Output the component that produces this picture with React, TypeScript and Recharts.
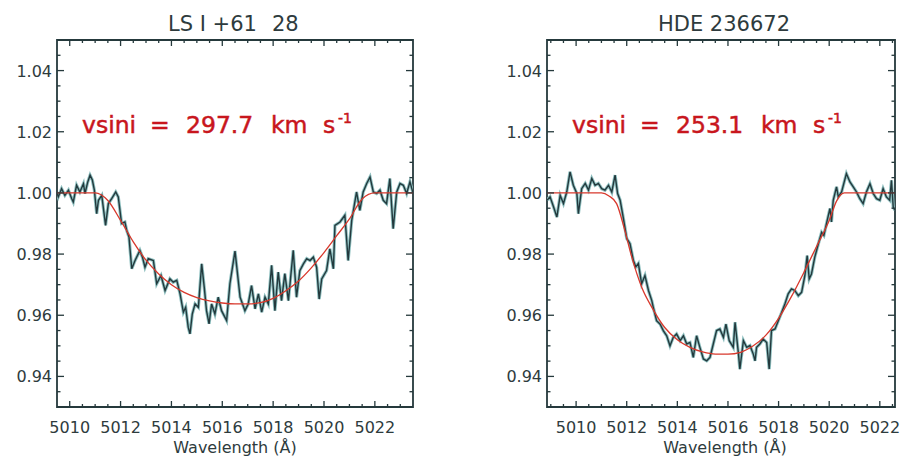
import React from 'react'
import { LineChart, Line, XAxis, YAxis, ReferenceArea } from 'recharts'

// LS I +61 28 — observed spectrum [wavelength Å, normalised flux]
const lsObserved: [number, number][] = [
  [5009.5, 1.0], [5009.55, 0.9987], [5009.68, 1.0014], [5009.81, 0.9992], [5009.95, 1.0009],
  [5010.08, 0.9981], [5010.14, 0.997], [5010.27, 1.0025], [5010.4, 1.0003], [5010.54, 1.003],
  [5010.6, 0.9998], [5010.71, 1.0036], [5010.8, 1.0058], [5010.89, 1.0042], [5010.97, 1.0009],
  [5011.06, 0.9932], [5011.13, 0.9976], [5011.26, 0.9992], [5011.41, 0.9894], [5011.52, 0.9965],
  [5011.65, 0.9981], [5011.81, 1.0003], [5011.91, 0.9987], [5012.04, 0.99], [5012.17, 0.9905],
  [5012.24, 0.9878], [5012.33, 0.9856], [5012.44, 0.9752], [5012.57, 0.9779], [5012.76, 0.9812],
  [5012.86, 0.979], [5012.96, 0.9757], [5013.09, 0.9785], [5013.29, 0.9779], [5013.42, 0.9703],
  [5013.59, 0.973], [5013.75, 0.9681], [5013.94, 0.9719], [5014.07, 0.9708], [5014.21, 0.9714],
  [5014.34, 0.967], [5014.47, 0.961], [5014.56, 0.9626], [5014.66, 0.9561], [5014.73, 0.9539],
  [5014.82, 0.9604], [5014.93, 0.9637], [5015.06, 0.9626], [5015.19, 0.9768], [5015.29, 0.9692],
  [5015.38, 0.9615], [5015.48, 0.9572], [5015.58, 0.9637], [5015.71, 0.9604], [5015.84, 0.9659],
  [5015.97, 0.9615], [5016.17, 0.9583], [5016.3, 0.9703], [5016.5, 0.981], [5016.7, 0.9659],
  [5016.89, 0.9615], [5017.02, 0.9637], [5017.15, 0.9697], [5017.29, 0.9621], [5017.42, 0.967],
  [5017.55, 0.961], [5017.68, 0.9659], [5017.81, 0.9637], [5017.94, 0.9763], [5018.07, 0.9615],
  [5018.2, 0.9741], [5018.33, 0.9648], [5018.46, 0.9736], [5018.6, 0.9648], [5018.79, 0.9812],
  [5018.92, 0.9659], [5019.05, 0.9746], [5019.19, 0.9768], [5019.32, 0.9785], [5019.45, 0.9779],
  [5019.58, 0.979], [5019.71, 0.9757], [5019.81, 0.9653], [5019.91, 0.9719], [5020.1, 0.9746],
  [5020.23, 0.9817], [5020.37, 0.9752], [5020.43, 0.9894], [5020.63, 0.9905], [5020.82, 0.9927],
  [5020.95, 0.9779], [5021.09, 0.991], [5021.28, 1.0003], [5021.41, 0.9943], [5021.54, 1.0003],
  [5021.68, 1.0031], [5021.81, 1.0052], [5021.94, 1.0003], [5022.07, 0.9998], [5022.2, 1.0009],
  [5022.33, 0.9976], [5022.46, 0.9965], [5022.59, 1.0047], [5022.72, 0.9883], [5022.86, 1.0003],
  [5022.99, 1.0031], [5023.12, 1.0025], [5023.25, 0.9998], [5023.38, 1.0036], [5023.5, 1.0],
]

// LS I +61 28 — rotational profile fit
const lsFit: [number, number][] = [
  [5009.5, 1.0], [5010.0, 1.0], [5010.5, 1.0], [5011.0, 1.0], [5011.5, 0.9975],
  [5012.0, 0.991], [5012.5, 0.984], [5013.0, 0.978], [5013.5, 0.9735], [5014.0, 0.97],
  [5014.5, 0.9675], [5015.0, 0.9658], [5015.5, 0.9647], [5016.0, 0.964], [5016.5, 0.9637],
  [5017.0, 0.9637], [5017.5, 0.9641], [5018.0, 0.9655], [5018.5, 0.968], [5019.0, 0.9712],
  [5019.5, 0.9755], [5020.0, 0.9805], [5020.5, 0.986], [5021.0, 0.9915], [5021.5, 0.998],
  [5022.0, 1.0], [5022.5, 1.0], [5023.0, 1.0], [5023.5, 1.0],
]

// HDE 236672 — observed spectrum
const hdeObserved: [number, number][] = [
  [5008.85, 0.9976], [5008.97, 0.9987], [5009.11, 0.9954], [5009.24, 0.9921], [5009.37, 0.9992],
  [5009.5, 0.9965], [5009.63, 1.0003], [5009.76, 1.0069], [5009.89, 1.0025], [5010.03, 0.9998],
  [5010.09, 0.9932], [5010.22, 1.0014], [5010.36, 1.0031], [5010.49, 1.0009], [5010.62, 1.0047],
  [5010.75, 1.0025], [5010.88, 1.0031], [5011.01, 1.0014], [5011.14, 1.0009], [5011.28, 1.0025],
  [5011.41, 1.0003], [5011.54, 1.0058], [5011.64, 0.9998], [5011.74, 0.9976], [5011.87, 0.9916],
  [5012.0, 0.9851], [5012.13, 0.9834], [5012.26, 0.978], [5012.36, 0.9758], [5012.46, 0.9769],
  [5012.59, 0.9703], [5012.72, 0.973], [5012.86, 0.9681], [5012.99, 0.9648], [5013.05, 0.9626],
  [5013.18, 0.9582], [5013.32, 0.9571], [5013.45, 0.9549], [5013.58, 0.9533], [5013.71, 0.95],
  [5013.84, 0.9528], [5013.97, 0.9539], [5014.11, 0.9517], [5014.24, 0.9533], [5014.37, 0.9506],
  [5014.5, 0.9511], [5014.63, 0.9462], [5014.76, 0.9533], [5014.89, 0.9495], [5015.03, 0.9457],
  [5015.16, 0.9451], [5015.29, 0.9462], [5015.42, 0.9506], [5015.55, 0.955], [5015.68, 0.9555],
  [5015.82, 0.9528], [5015.92, 0.9571], [5016.05, 0.9517], [5016.21, 0.9495], [5016.28, 0.9577],
  [5016.41, 0.9478], [5016.47, 0.9424], [5016.61, 0.9517], [5016.74, 0.9495], [5016.87, 0.9501],
  [5017.0, 0.9473], [5017.07, 0.9451], [5017.13, 0.9495], [5017.26, 0.9506], [5017.39, 0.9522],
  [5017.53, 0.9511], [5017.63, 0.9424], [5017.72, 0.955], [5017.86, 0.9555], [5017.99, 0.9582],
  [5018.12, 0.9609], [5018.25, 0.9637], [5018.38, 0.967], [5018.51, 0.9686], [5018.64, 0.9681],
  [5018.78, 0.9664], [5018.91, 0.9675], [5019.04, 0.973], [5019.13, 0.9795], [5019.21, 0.9719],
  [5019.3, 0.9735], [5019.43, 0.979], [5019.57, 0.9833], [5019.7, 0.9871], [5019.79, 0.9861],
  [5019.89, 0.9899], [5020.03, 0.9949], [5020.09, 0.9905], [5020.16, 0.9976], [5020.29, 1.002],
  [5020.36, 0.9987], [5020.49, 1.0003], [5020.68, 1.0063], [5020.82, 1.0036], [5020.95, 1.002],
  [5021.08, 1.0003], [5021.21, 0.9981], [5021.34, 0.9965], [5021.47, 1.0003], [5021.61, 1.003],
  [5021.74, 0.9998], [5021.87, 0.9981], [5022.0, 0.9976], [5022.13, 1.0014], [5022.26, 0.9987],
  [5022.39, 0.9976], [5022.46, 1.0041], [5022.53, 0.9954], [5022.6, 0.9943],
]

// HDE 236672 — rotational profile fit
const hdeFit: [number, number][] = [
  [5008.85, 1.0], [5009.5, 1.0], [5010.0, 1.0], [5010.5, 1.0], [5011.0, 1.0],
  [5011.3, 0.999], [5011.6, 0.9965], [5011.9, 0.9885], [5012.2, 0.979], [5012.6, 0.969],
  [5013.0, 0.9625], [5013.5, 0.956], [5014.0, 0.952], [5014.5, 0.9495], [5015.0, 0.948],
  [5015.5, 0.9473], [5016.0, 0.9473], [5016.5, 0.9479], [5017.0, 0.95], [5017.5, 0.9535],
  [5018.0, 0.959], [5018.5, 0.966], [5019.0, 0.974], [5019.5, 0.9825], [5020.0, 0.991],
  [5020.3, 0.9975], [5020.6, 1.0], [5021.0, 1.0], [5022.0, 1.0], [5022.6, 1.0],
]

const lsXTicks = [
  5010, 5010.5, 5011, 5011.5, 5012, 5012.5, 5013, 5013.5, 5014, 5014.5, 5015, 5015.5, 5016, 5016.5,
  5017, 5017.5, 5018, 5018.5, 5019, 5019.5, 5020, 5020.5, 5021, 5021.5, 5022, 5022.5, 5023,
]
const hdeXTicks = [
  5009, 5009.5, 5010, 5010.5, 5011, 5011.5, 5012, 5012.5, 5013, 5013.5, 5014, 5014.5, 5015, 5015.5,
  5016, 5016.5, 5017, 5017.5, 5018, 5018.5, 5019, 5019.5, 5020, 5020.5, 5021, 5021.5, 5022, 5022.5,
]
const majorX = [5010, 5012, 5014, 5016, 5018, 5020, 5022]
const yTicks = [
  0.935, 0.94, 0.945, 0.95, 0.955, 0.96, 0.965, 0.97, 0.975, 0.98, 0.985, 0.99, 0.995, 1.0,
  1.005, 1.01, 1.015, 1.02, 1.025, 1.03, 1.035, 1.04, 1.045,
]
const majorY = [0.94, 0.96, 0.98, 1.0, 1.02, 1.04]
const yDomain: [number, number] = [0.93, 1.05]

const FONT = '"DejaVu Sans", Verdana, sans-serif'
const INK = '#25393c'
const LABEL = '#2e3b3d'
const RED_TEXT = '#c8161d'
const FIT_RED = '#d8382c'
const HEIGHT = 458
const PLOT_TOP = 40
const PLOT_BOTTOM = 407
const AXIS_W = 57

const toRows = (pts: [number, number][]) => pts.map(([w, f]) => ({ w, f }))

function Panel({ left, width, marginRight, domain, ticks, observed, fit }: any) {
  const plotLeft = AXIS_W
  const plotRight = width - marginRight
  const obs = toRows(observed)
  const model = toRows(fit)

  const XTick = ({ x, payload }: any) => {
    const major = majorX.includes(payload.value)
    const len = major ? 6 : 3
    return (
      <g>
        <line x1={x} x2={x} y1={PLOT_BOTTOM} y2={PLOT_BOTTOM - len} stroke={INK} strokeWidth={1.3} />
        <line x1={x} x2={x} y1={PLOT_TOP} y2={PLOT_TOP + len} stroke={INK} strokeWidth={1.3} />
        {major && (
          <text x={x} y={433} textAnchor="middle" fill={LABEL} fontSize={16} fontFamily={FONT}>
            {payload.value}
          </text>
        )}
      </g>
    )
  }

  const YTick = ({ y, payload }: any) => {
    const major = majorY.includes(payload.value)
    const len = major ? 7 : 3.5
    return (
      <g>
        <line x1={plotLeft} x2={plotLeft + len} y1={y} y2={y} stroke={INK} strokeWidth={1.3} />
        <line x1={plotRight} x2={plotRight - len} y1={y} y2={y} stroke={INK} strokeWidth={1.3} />
        {major && (
          <text x={plotLeft - 5} y={y + 6} textAnchor="end" fill={LABEL} fontSize={16} fontFamily={FONT}>
            {payload.value.toFixed(2)}
          </text>
        )}
      </g>
    )
  }

  return (
    <div style={{ position: 'absolute', left, top: 0 }}>
      <LineChart width={width} height={HEIGHT} margin={{ top: PLOT_TOP, right: marginRight, bottom: 0, left: 0 }}>
        <XAxis
          dataKey="w"
          type="number"
          domain={domain}
          allowDataOverflow
          ticks={ticks}
          interval={0}
          height={HEIGHT - PLOT_BOTTOM}
          axisLine={false}
          tickLine={false}
          tickSize={0}
          tickMargin={0}
          tick={(p: any) => <XTick {...p} />}
        />
        <YAxis
          type="number"
          domain={yDomain}
          allowDataOverflow
          ticks={yTicks}
          interval={0}
          width={AXIS_W}
          axisLine={false}
          tickLine={false}
          tickSize={0}
          tickMargin={0}
          tick={(p: any) => <YTick {...p} />}
        />
        <ReferenceArea
          x1={domain[0]}
          x2={domain[1]}
          y1={yDomain[0]}
          y2={yDomain[1]}
          fill="none"
          fillOpacity={0}
          stroke={INK}
          strokeWidth={1.8}
          ifOverflow="visible"
        />
        <Line data={obs} dataKey="f" type="linear" stroke="#8fc0c0" strokeWidth={3.2} dot={false} isAnimationActive={false} />
        <Line data={obs} dataKey="f" type="linear" stroke="#23393d" strokeWidth={1.4} dot={false} isAnimationActive={false} />
        <Line data={model} dataKey="f" type="monotone" stroke={FIT_RED} strokeWidth={1.3} dot={false} isAnimationActive={false} />
      </LineChart>
    </div>
  )
}

function Vsini({ x, value }: { x: number; value: string }) {
  return (
    <text y={133} fill={RED_TEXT} stroke={RED_TEXT} strokeWidth={0.5} fontSize={23.5} fontFamily={FONT}>
      <tspan x={x}>vsini</tspan>
      <tspan x={x + 68}>=</tspan>
      <tspan x={x + 104}>{value}</tspan>
      <tspan x={x + 189}>km</tspan>
      <tspan x={x + 241}>s</tspan>
      <tspan x={x + 256} y={123} fontSize={14}>-1</tspan>
    </text>
  )
}

export default function App() {
  return (
    <div style={{ position: 'absolute', left: 0, top: 0, width: 901, height: HEIGHT, background: '#fff', overflow: 'hidden' }}>
      <Panel left={0} width={450} marginRight={37} domain={[5009.5, 5023.5]} ticks={lsXTicks} observed={lsObserved} fit={lsFit} />
      <Panel left={490} width={411} marginRight={6} domain={[5008.85, 5022.6]} ticks={hdeXTicks} observed={hdeObserved} fit={hdeFit} />
      <svg width={901} height={HEIGHT} style={{ position: 'absolute', left: 0, top: 0, pointerEvents: 'none' }}>
        <text y={31} fill={LABEL} fontSize={21} fontFamily={FONT}>
          <tspan x={168}>LS I +61</tspan>
          <tspan x={272}>28</tspan>
        </text>
        <text x={724} y={31} textAnchor="middle" fill={LABEL} fontSize={21} fontFamily={FONT}>
          HDE 236672
        </text>
        <Vsini x={82} value="297.7" />
        <Vsini x={572} value="253.1" />
        <text x={235} y={453} textAnchor="middle" fill={LABEL} fontSize={16} fontFamily={FONT}>
          Wavelength (Å)
        </text>
        <text x={725} y={453} textAnchor="middle" fill={LABEL} fontSize={16} fontFamily={FONT}>
          Wavelength (Å)
        </text>
      </svg>
    </div>
  )
}
